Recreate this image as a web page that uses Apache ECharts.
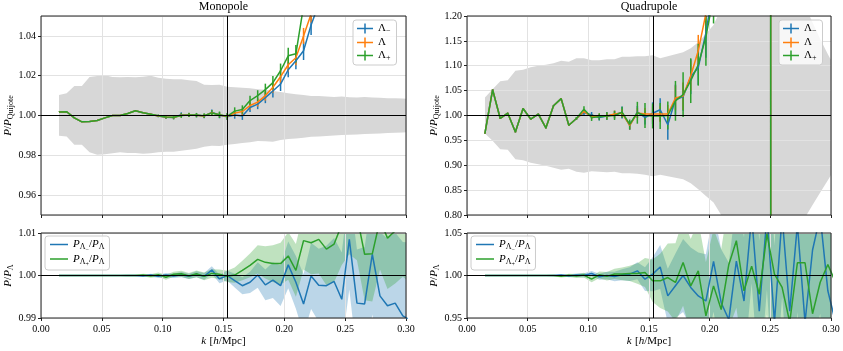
<!DOCTYPE html>
<html>
<head>
<meta charset="utf-8">
<title>Monopole / Quadrupole</title>
<script src="https://cdn.jsdelivr.net/npm/echarts@6.0.0/dist/echarts.min.js"></script>
<style>
  html, body { margin: 0; padding: 0; background: #fff; }
  #chart { width: 843px; height: 351px; }
</style>
</head>
<body>
<div id="chart"></div>
<script>
// ---- data ----
const k = [0.0148,0.0211,0.0274,0.0336,0.0399,0.0462,0.0525,0.0588,0.0650,0.0713,
  0.0776,0.0839,0.0902,0.0964,0.1027,0.1090,0.1153,0.1216,0.1278,0.1341,
  0.1404,0.1467,0.1530,0.1592,0.1655,0.1718,0.1781,0.1844,0.1906,0.1969,
  0.2032,0.2095,0.2158,0.2220,0.2283,0.2346,0.2409,0.2472,0.2534,0.2597,
  0.2660,0.2723,0.2786,0.2848,0.2911,0.2974,0.3037];

const xTicks = [0, 0.3, 0.05];   // min, max, step
const K_NL = 0.1534;             // vertical reference line
const UNITY = 1;

// monopole P/P_Quijote
const monoMinus = [1.0018,1.0019,0.9988,0.9968,0.9970,0.9975,0.9988,1.0000,1.0000,1.0010,
  1.0024,1.0014,1.0006,0.9997,0.9991,0.9990,1.0004,1.0002,1.0001,0.9997,
  1.0016,1.0001,0.9994,1.0002,0.9998,1.0040,1.0057,1.0090,1.0123,1.0158,
  1.0230,1.0275,1.0325,1.0455,1.0560,1.0680];
const monoFid = [1.0018,1.0019,0.9988,0.9968,0.9970,0.9975,0.9988,1.0000,1.0000,1.0010,
  1.0024,1.0014,1.0006,0.9998,0.9992,0.9990,1.0001,1.0003,1.0001,0.9998,
  1.0014,1.0003,0.9995,1.0012,1.0020,1.0050,1.0067,1.0100,1.0142,1.0195,
  1.0255,1.0290,1.0400,1.0510,1.0640,1.0780];
const monoPlus = [1.0018,1.0019,0.9988,0.9968,0.9970,0.9975,0.9988,1.0000,1.0000,1.0010,
  1.0024,1.0014,1.0006,0.9999,0.9993,0.9991,1.0000,1.0003,1.0002,0.9999,
  1.0013,1.0004,0.9996,1.0022,1.0030,1.0075,1.0100,1.0130,1.0165,1.0225,
  1.0300,1.0310,1.0550,1.0750,1.1000,1.1300];
const monoErrMinus = [0.0001,0.0001,0.0001,0.0001,0.0001,0.0001,0.0001,0.0001,0.0001,0.0001,0.0001,0.0001,
  0.0004,0.0006,0.0008,0.0009,0.0012,0.0010,0.0010,0.0011,0.0014,0.0015,
  0.0016,0.0018,0.0020,0.0022,0.0025,0.0028,0.0032,0.0035,0.0038,0.0042,
  0.0046,0.0050,0.0055,0.0060];
const monoErrFid = [0.0001,0.0001,0.0001,0.0001,0.0001,0.0001,0.0001,0.0001,0.0001,0.0001,0.0001,0.0001,
  0.0003,0.0005,0.0007,0.0008,0.0010,0.0009,0.0009,0.0010,0.0012,0.0013,
  0.0014,0.0016,0.0018,0.0020,0.0022,0.0025,0.0028,0.0031,0.0034,0.0037,
  0.0040,0.0044,0.0048,0.0052];
const monoErrPlus = [0.0001,0.0001,0.0001,0.0001,0.0001,0.0001,0.0001,0.0001,0.0001,0.0001,0.0001,0.0001,
  0.0004,0.0006,0.0008,0.0010,0.0012,0.0011,0.0011,0.0012,0.0015,0.0016,
  0.0017,0.0019,0.0021,0.0024,0.0027,0.0030,0.0033,0.0036,0.0040,0.0044,
  0.0048,0.0052,0.0057,0.0062];
const monoBandHi = [1.0103,1.0112,1.0148,1.0148,1.0193,1.0198,1.0202,1.0193,1.0192,1.0193,
  1.0192,1.0195,1.0200,1.0190,1.0185,1.0182,1.0182,1.0177,1.0173,1.0155,
  1.0153,1.0155,1.0145,1.0142,1.0140,1.0137,1.0132,1.0130,1.0123,1.0118,
  1.0112,1.0107,1.0103,1.0098,1.0098,1.0095,1.0093,1.0095,1.0092,1.0090,
  1.0093,1.0090,1.0089,1.0087,1.0087,1.0085,1.0084];
const monoBandLo = [0.9898,0.9895,0.9853,0.9853,0.9815,0.9803,0.9805,0.9810,0.9815,0.9812,
  0.9812,0.9808,0.9810,0.9815,0.9818,0.9818,0.9823,0.9828,0.9833,0.9843,
  0.9848,0.9847,0.9853,0.9857,0.9862,0.9865,0.9872,0.9870,0.9868,0.9877,
  0.9882,0.9885,0.9888,0.9893,0.9895,0.9897,0.9900,0.9902,0.9903,0.9905,
  0.9907,0.9908,0.9910,0.9912,0.9913,0.9915,0.9917];

// quadrupole P/P_Quijote
const quadMinus = [0.9644,1.0517,0.9940,1.0047,0.9670,1.0140,0.9926,1.0027,0.9750,1.0195,
  1.0340,0.9805,0.9940,1.0060,1.0010,0.9960,0.9990,1.0020,1.0060,0.9800,
  1.0070,0.9960,1.0045,1.0115,0.9815,1.0320,1.0375,1.0780,1.0965,1.1660,
  1.2600,1.3500,1.4800,1.7000,2.1000,3.1000,6.2000,29.0,-27.0];
const quadFid = [0.9644,1.0517,0.9940,1.0047,0.9670,1.0140,0.9926,1.0027,0.9750,1.0195,
  1.0340,0.9805,0.9940,1.0080,0.9980,0.9985,0.9990,1.0030,1.0050,0.9800,
  1.0050,1.0030,1.0030,1.0030,1.0030,1.0350,1.0390,1.0800,1.1300,1.2050,
  1.3000,1.4000,1.5500,1.8000,2.2000,3.2000,6.5000,29.5,-27.5];
const quadPlus = [0.9644,1.0517,0.9940,1.0047,0.9670,1.0140,0.9926,1.0027,0.9750,1.0195,
  1.0340,0.9805,0.9940,1.0128,0.9960,0.9975,0.9990,1.0000,1.0065,0.9820,
  1.0055,1.0000,0.9990,0.9990,1.0000,1.0295,1.0420,1.0700,1.1020,1.1580,
  1.2400,1.3300,1.4500,1.6500,2.0000,3.0000,6.0000,30.0,-28.0];
const quadErrMinus = [0.001,0.001,0.001,0.001,0.001,0.001,0.001,0.001,0.001,0.001,0.001,0.001,
  0.003,0.005,0.006,0.006,0.007,0.008,0.012,0.009,0.012,0.014,
  0.022,0.023,0.030,0.030,0.028,0.035,0.035,0.050,0.050,0.060,
  0.070,0.080,0.090,0.150,0.300,1.000,1.000];
const quadErrFid = [0.001,0.001,0.001,0.001,0.001,0.001,0.001,0.001,0.001,0.001,0.001,0.001,
  0.002,0.004,0.005,0.005,0.006,0.007,0.008,0.008,0.010,0.012,
  0.015,0.016,0.018,0.025,0.028,0.030,0.032,0.040,0.045,0.055,
  0.065,0.075,0.085,0.140,0.280,1.000,1.000];
const quadErrPlus = [0.001,0.001,0.001,0.001,0.001,0.001,0.001,0.001,0.001,0.001,0.001,0.001,
  0.003,0.006,0.007,0.007,0.008,0.009,0.011,0.010,0.022,0.025,
  0.025,0.026,0.028,0.040,0.045,0.045,0.042,0.058,0.055,0.070,
  0.080,0.090,0.100,0.150,0.300,1.000,1.000];
const quadBandHi = [1.036,1.053,1.069,1.071,1.090,1.092,1.097,1.100,1.102,1.105,
  1.110,1.108,1.115,1.115,1.111,1.111,1.113,1.113,1.118,1.118,
  1.119,1.119,1.121,1.115,1.119,1.123,1.127,1.135,1.147,1.164,
  1.182,1.215,1.260,1.330,1.450,1.700,2.400,6.000,6.000,2.500,
  1.600,1.320,1.220,1.187,1.154,1.123,1.095];
const quadBandLo = [0.964,0.949,0.932,0.931,0.912,0.910,0.905,0.902,0.899,0.895,
  0.891,0.893,0.887,0.885,0.888,0.887,0.886,0.887,0.884,0.884,
  0.883,0.881,0.878,0.881,0.878,0.875,0.872,0.864,0.852,0.838,
  0.825,0.800,0.760,0.700,0.580,0.350,-0.300,-4.000,-4.000,-0.500,
  0.450,0.700,0.795,0.820,0.845,0.870,0.895];

// ratios P_{Λ±}/P_Λ and their spread
const ratioMonoMinus = [1.0000,1.0000,1.0000,1.0000,1.0000,1.0000,1.0000,1.0000,1.0000,1.0000,
  1.0000,0.9999,1.0001,0.9998,1.0001,0.9999,1.0002,0.9998,1.0003,0.9998,
  1.0013,0.9992,1.0000,0.9988,0.9976,0.9984,1.0001,0.9978,0.9989,0.9976,
  1.0025,0.9984,0.9933,0.9999,0.9977,0.9976,0.9986,0.9944,1.0085,0.9935,
  0.9933,1.0050,0.9952,0.9929,0.9935,0.9905,0.9895];
const ratioMonoPlus = [1.0000,1.0000,1.0000,1.0000,1.0000,1.0000,1.0000,1.0000,1.0000,1.0000,
  1.0000,1.0001,0.9999,1.0002,0.9996,1.0003,1.0004,0.9999,1.0004,0.9998,
  1.0005,1.0003,0.9998,1.0001,1.0012,1.0024,1.0038,1.0031,1.0028,1.0028,
  1.0046,1.0012,1.0082,1.0077,1.0085,1.0062,1.0074,1.0120,1.0150,1.0140,
  1.0050,1.0051,1.0130,1.0088,1.0105,1.0125,1.0115];
const ratioMonoSigMinus = [0.00005,0.00005,0.00005,0.00005,0.00005,0.0001,0.0001,0.0001,0.0001,0.0002,
  0.0002,0.0002,0.0003,0.0004,0.0005,0.0005,0.0006,0.0006,0.0007,0.0008,
  0.0009,0.0010,0.0012,0.0016,0.0020,0.0025,0.0030,0.0036,0.0042,0.0048,
  0.0055,0.0062,0.0070,0.0078,0.0086,0.0094,0.0102,0.0110,0.0118,0.0126,
  0.0134,0.0142,0.0150,0.0158,0.0166,0.0174,0.0182];
const ratioMonoSigPlus = [0.00005,0.00005,0.00005,0.00005,0.00005,0.0001,0.0001,0.0001,0.0001,0.0002,
  0.0002,0.0003,0.0004,0.0005,0.0006,0.0006,0.0007,0.0007,0.0008,0.0009,
  0.0010,0.0011,0.0013,0.0018,0.0023,0.0028,0.0033,0.0038,0.0043,0.0049,
  0.0056,0.0062,0.0068,0.0074,0.0080,0.0085,0.0090,0.0095,0.0100,0.0104,
  0.0108,0.0112,0.0116,0.0120,0.0124,0.0128,0.0132];
const ratioQuadMinus = [1.0000,1.0000,1.0000,1.0000,1.0000,1.0000,1.0000,1.0000,1.0000,1.0000,
  1.0005,0.9995,1.0005,1.0002,1.0024,0.9985,1.0000,0.9988,1.0008,1.0016,
  1.0055,0.9957,1.0016,1.0100,0.9760,0.9880,1.0000,0.9860,0.9760,0.9700,
  1.0165,0.9680,0.9480,1.0170,0.9700,1.0700,0.9580,1.0700,0.9450,1.0700,
  0.9580,1.0600,0.9450,1.0300,1.0700,0.9820,0.9450];
const ratioQuadPlus = [1.0000,1.0000,1.0000,1.0000,1.0000,1.0000,1.0000,1.0000,1.0000,1.0000,
  0.9990,1.0003,0.9995,1.0005,0.9957,1.0008,0.9990,1.0018,1.0018,1.0024,
  1.0024,1.0035,0.9937,0.9937,0.9976,0.9918,1.0153,0.9878,1.0055,0.9525,
  0.9878,0.9600,1.0130,1.0410,0.9820,1.0110,0.9780,1.0490,1.0016,0.9860,
  0.9450,1.0150,1.0150,0.9550,0.9920,1.0130,0.9920];
const ratioQuadSigMinus = [0.0002,0.0002,0.0002,0.0002,0.0002,0.0002,0.0002,0.0004,0.0006,0.0009,
  0.0012,0.0016,0.0020,0.0025,0.0030,0.0035,0.0045,0.0055,0.0065,0.0080,
  0.0100,0.0140,0.0200,0.0260,0.0320,0.0380,0.0430,0.0470,0.0510,0.0550,
  0.0590,0.0630,0.0670,0.0710,0.0750,0.0790,0.0830,0.0870,0.0910,0.0950,
  0.0990,0.1030,0.1070,0.1110,0.1150,0.1190,0.1230];
const ratioQuadSigPlus = [0.0002,0.0002,0.0002,0.0002,0.0002,0.0002,0.0003,0.0005,0.0007,0.0010,
  0.0014,0.0018,0.0023,0.0028,0.0035,0.0040,0.0050,0.0060,0.0075,0.0090,
  0.0120,0.0170,0.0250,0.0320,0.0400,0.0460,0.0510,0.0550,0.0590,0.0630,
  0.0670,0.0710,0.0750,0.0790,0.0830,0.0870,0.0910,0.0950,0.0990,0.1030,
  0.1070,0.1110,0.1150,0.1190,0.1230,0.1270,0.1310];

// ---- styling ----
const SERIF = '"Liberation Serif", "DejaVu Serif", serif';
const BLUE = '#1f77b4', ORANGE = '#ff7f0e', GREEN = '#2ca02c';
const BAND_GRAY = '#d7d7d7';

// rich text pieces for the math labels (legend and axis names)
function richSet(size) {
  return {
    i: { fontFamily: SERIF, fontStyle: 'italic', fontSize: size, color: '#000' },
    n: { fontFamily: SERIF, fontSize: size, color: '#000' },
    g: { fontFamily: SERIF, fontSize: size, color: '#000' },
    s: { fontFamily: SERIF, fontSize: Math.round(size * 0.7), color: '#000', padding: [5, 0, 0, 0] },
    ss: { fontFamily: SERIF, fontSize: Math.round(size * 0.55), color: '#000', padding: [10, 0, 0, 0] }
  };
}
const RICH_LEGEND = richSet(11);
const RICH_AXIS = richSet(11);

const LEGEND_TEXT = {
  Lminus: '{g|Λ}{s|−}',
  Lfid: '{g|Λ}',
  Lplus: '{g|Λ}{s|+}',
  ratioMinus: '{i|P}{s|Λ}{ss|−}{n|/}{i|P}{s|Λ}',
  ratioPlus: '{i|P}{s|Λ}{ss|+}{n|/}{i|P}{s|Λ}'
};

const ERR_ICON = 'path://M0,4.25h16v1.5h-16z M7.25,0h1.5v10h-1.5z';

function rectClip(params) {
  const cs = params.coordSys;
  return { type: 'rect', shape: { x: cs.x, y: cs.y, width: cs.width, height: cs.height } };
}

// filled region between lo and hi
function bandSeries(gi, name, ks, lo, hi, color) {
  return {
    type: 'custom', name: name, xAxisIndex: gi, yAxisIndex: gi, z: 0, silent: true, clip: true,
    data: [[ks[0], lo[0]]],
    renderItem: function (params, api) {
      const upper = ks.map((kk, j) => api.coord([kk, hi[j]]));
      const lower = ks.map((kk, j) => api.coord([kk, lo[j]])).reverse();
      return {
        type: 'polygon', shape: { points: upper.concat(lower) },
        style: { fill: color }, clipPath: rectClip(params)
      };
    }
  };
}

function lineSeries(gi, name, ks, vals, color) {
  return {
    type: 'line', name: name, xAxisIndex: gi, yAxisIndex: gi, z: 2, silent: true,
    data: vals.map((v, j) => [ks[j], v]),
    showSymbol: false, symbol: 'none', color: color,
    lineStyle: { color: color, width: 1.5 }, clip: true
  };
}

// vertical error bars
function errSeries(gi, name, ks, vals, errs, color) {
  return {
    type: 'custom', name: name, xAxisIndex: gi, yAxisIndex: gi, z: 2, silent: true, clip: true,
    color: color, itemStyle: { color: color },
    data: vals.map((v, j) => [ks[j], v - errs[j], v + errs[j]]),
    encode: { x: 0, y: [1, 2] },
    renderItem: function (params, api) {
      const a = api.coord([api.value(0), api.value(1)]);
      const b = api.coord([api.value(0), api.value(2)]);
      return {
        type: 'line', shape: { x1: a[0], y1: a[1], x2: b[0], y2: b[1] },
        style: { stroke: color, lineWidth: 1.5 }, clipPath: rectClip(params)
      };
    }
  };
}

function refSeries(gi) {
  return {
    type: 'line', name: 'ref' + gi, xAxisIndex: gi, yAxisIndex: gi, z: 3, silent: true, data: [],
    markLine: {
      silent: true, symbol: ['none', 'none'], label: { show: false }, animation: false,
      precision: 4,
      lineStyle: { color: '#000', width: 1, type: 'solid' },
      emphasis: { disabled: true },
      data: [{ xAxis: K_NL }, { yAxis: UNITY }]
    }
  };
}

function ratioSeries(gi, ks, minus, plus, sigMinus, sigPlus) {
  return [
    bandSeries(gi, 'bandMinus' + gi, ks, minus.map((v, j) => v - sigMinus[j]), minus.map((v, j) => v + sigMinus[j]), 'rgba(31,119,180,0.3)'),
    bandSeries(gi, 'bandPlus' + gi, ks, plus.map((v, j) => v - sigPlus[j]), plus.map((v, j) => v + sigPlus[j]), 'rgba(44,160,44,0.3)'),
    lineSeries(gi, 'ratioMinus', ks, minus, BLUE),
    lineSeries(gi, 'ratioPlus', ks, plus, GREEN),
    refSeries(gi)
  ];
}

function xAxisFor(gi, showLabels) {
  return {
    type: 'value', gridIndex: gi, min: xTicks[0], max: xTicks[1], interval: xTicks[2], z: 1,
    axisLine: { show: false },
    axisTick: { show: true, length: 3, lineStyle: { color: '#222', width: 1 } },
    axisLabel: { show: showLabels, margin: 6, fontFamily: SERIF, fontSize: 10, color: '#000',
      formatter: v => v.toFixed(2) },
    splitLine: { show: true, lineStyle: { color: '#e2e2e2', width: 1 } },
    name: showLabels ? '{i|k} {n|[}{i|h}{n|/Mpc]}' : '',
    nameLocation: 'middle', nameGap: 17,
    nameTextStyle: { rich: RICH_AXIS }
  };
}

function yAxisFor(gi, extra, name) {
  return Object.assign({
    type: 'value', gridIndex: gi, z: 1,
    axisLine: { show: false },
    axisTick: { show: true, length: 3, lineStyle: { color: '#222', width: 1 } },
    axisLabel: { margin: 5, fontFamily: SERIF, fontSize: 10, color: '#000', formatter: v => v.toFixed(2) },
    splitLine: { show: true, lineStyle: { color: '#e2e2e2', width: 1 } },
    name: name, nameLocation: 'middle', nameRotate: 90, nameGap: 24,
    nameTextStyle: { rich: RICH_AXIS }
  }, extra);
}

function topLegend(left) {
  return {
    orient: 'vertical', left: left, top: 20, itemWidth: 16, itemHeight: 10, itemGap: 2,
    padding: [3, 6, 3, 4], selectedMode: false,
    backgroundColor: 'rgba(255,255,255,0.8)', borderColor: '#cccccc', borderWidth: 1, borderRadius: 3,
    data: ['Lminus', 'Lfid', 'Lplus'].map(n => ({ name: n, icon: ERR_ICON })),
    formatter: n => LEGEND_TEXT[n],
    textStyle: { fontFamily: SERIF, fontSize: 11, color: '#000', rich: RICH_LEGEND }
  };
}

function ratioLegend(left) {
  return {
    orient: 'vertical', left: left, top: 236, itemWidth: 18, itemHeight: 1.5, itemGap: 1,
    padding: [3, 5, 3, 5], selectedMode: false,
    backgroundColor: 'rgba(255,255,255,0.8)', borderColor: '#cccccc', borderWidth: 1, borderRadius: 3,
    data: ['ratioMinus', 'ratioPlus'].map(n => ({ name: n, icon: 'rect' })),
    formatter: n => LEGEND_TEXT[n],
    textStyle: { fontFamily: SERIF, fontSize: 11, color: '#000', rich: RICH_LEGEND }
  };
}

const grids = [
  { left: 41, top: 16, width: 365, height: 199 },   // monopole
  { left: 41, top: 233, width: 365, height: 85 },   // monopole ratio
  { left: 467, top: 16, width: 364, height: 199 },  // quadrupole
  { left: 467, top: 233, width: 364, height: 85 }   // quadrupole ratio
].map(g => Object.assign({
  show: true, borderColor: '#222', borderWidth: 1, backgroundColor: 'transparent',
  z: 5, containLabel: false, outerBoundsMode: 'none'
}, g));

const Y_TOP = '{i|P}{n|/}{i|P}{s|Quijote}';
const Y_RATIO = '{i|P}{n|/}{i|P}{s|Λ}';

const TITLE_STYLE = { fontFamily: SERIF, fontSize: 12, fontWeight: 'normal', color: '#000' };

const option = {
  animation: false,
  backgroundColor: '#fff',
  title: [
    { text: 'Monopole', left: 223.5, top: 1, padding: 0, textAlign: 'center', textStyle: TITLE_STYLE },
    { text: 'Quadrupole', left: 649, top: 1, padding: 0, textAlign: 'center', textStyle: TITLE_STYLE }
  ],
  grid: grids,
  xAxis: [xAxisFor(0, false), xAxisFor(1, true), xAxisFor(2, false), xAxisFor(3, true)],
  yAxis: [
    yAxisFor(0, { min: 0.95, max: 1.05, splitNumber: 5,
      axisLabel: { margin: 5, fontFamily: SERIF, fontSize: 10, color: '#000', formatter: v => v.toFixed(2),
        showMinLabel: false, showMaxLabel: false } }, Y_TOP),
    yAxisFor(1, { min: 0.99, max: 1.01, interval: 0.01 }, Y_RATIO),
    yAxisFor(2, { min: 0.8, max: 1.2, interval: 0.05 }, Y_TOP),
    yAxisFor(3, { min: 0.95, max: 1.05, interval: 0.05 }, Y_RATIO)
  ],
  legend: [topLegend(353), ratioLegend(45), topLegend(779), ratioLegend(471)],
  series: [
    // monopole
    bandSeries(0, 'quijoteMono', k, monoBandLo, monoBandHi, BAND_GRAY),
    lineSeries(0, 'Lminus', k, monoMinus, BLUE),
    errSeries(0, 'Lminus', k, monoMinus, monoErrMinus, BLUE),
    lineSeries(0, 'Lfid', k, monoFid, ORANGE),
    errSeries(0, 'Lfid', k, monoFid, monoErrFid, ORANGE),
    lineSeries(0, 'Lplus', k, monoPlus, GREEN),
    errSeries(0, 'Lplus', k, monoPlus, monoErrPlus, GREEN),
    refSeries(0),
    // quadrupole
    bandSeries(2, 'quijoteQuad', k, quadBandLo, quadBandHi, BAND_GRAY),
    lineSeries(2, 'Lminus', k, quadMinus, BLUE),
    errSeries(2, 'Lminus', k, quadMinus, quadErrMinus, BLUE),
    lineSeries(2, 'Lfid', k, quadFid, ORANGE),
    errSeries(2, 'Lfid', k, quadFid, quadErrFid, ORANGE),
    lineSeries(2, 'Lplus', k, quadPlus, GREEN),
    errSeries(2, 'Lplus', k, quadPlus, quadErrPlus, GREEN),
    refSeries(2)
  ].concat(
    ratioSeries(1, k, ratioMonoMinus, ratioMonoPlus, ratioMonoSigMinus, ratioMonoSigPlus),
    ratioSeries(3, k, ratioQuadMinus, ratioQuadPlus, ratioQuadSigMinus, ratioQuadSigPlus)
  )
};

const chart = echarts.init(document.getElementById('chart'), null, { renderer: 'canvas' });
chart.setOption(option);
</script>
</body>
</html>
